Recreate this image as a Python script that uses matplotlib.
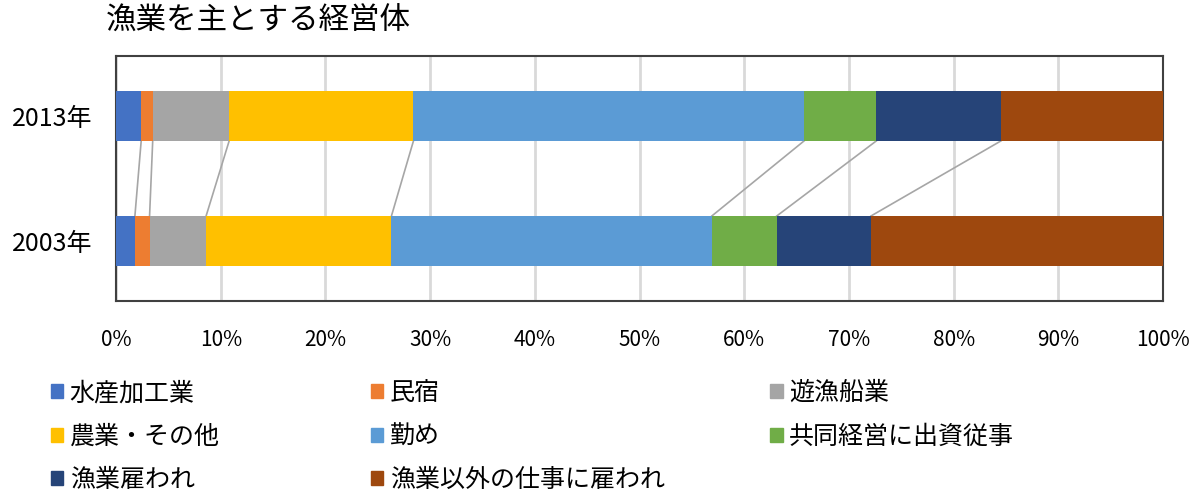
import numpy as np
import matplotlib.pyplot as plt
from matplotlib.patches import Patch

plt.rcParams['font.family'] = ['Noto Sans CJK JP', 'DejaVu Sans']

years = ['2003年', '2013年']
categories = ['水産加工業', '民宿', '遊漁船業', '農業・その他', '勤め',
              '共同経営に出資従事', '漁業雇われ', '漁業以外の仕事に雇われ']
# shares in percent per category
share_2003 = [1.8, 1.4, 5.4, 17.7, 30.6, 6.2, 9.0, 27.9]
share_2013 = [2.4, 1.1, 7.3, 17.6, 37.3, 6.9, 11.9, 15.5]
colors = ['#4472C4', '#ED7D31', '#A5A5A5', '#FFC000', '#5B9BD5',
          '#70AD47', '#264478', '#9E480E']

vals = np.array([share_2003, share_2013])
vals = vals / vals.sum(axis=1, keepdims=True) * 100
cum = np.cumsum(vals, axis=1)
left = cum - vals

fig = plt.figure(figsize=(11.94, 4.95), dpi=100)
ax = fig.add_axes([0.0972, 0.392, 0.877, 0.495])

h = 0.4
ypos = np.arange(len(years))
for i, cat in enumerate(categories):
    ax.barh(ypos, vals[:, i], left=left[:, i], height=h, color=colors[i],
            label=cat, zorder=3)

# connector lines between the bars
for k in range(len(categories) - 1):
    ax.plot([cum[1, k], cum[0, k]], [1 - h / 2, 0 + h / 2],
            color='#a6a6a6', lw=1.2, zorder=2)

ax.set_xlim(0, 100)
ax.set_ylim(-0.48, 1.48)
ax.set_xticks(np.arange(0, 101, 10))
ax.set_xticklabels([f'{t}%' for t in range(0, 101, 10)], fontsize=15)
ax.set_yticks(ypos)
ax.set_yticklabels(years, fontsize=18)
ax.tick_params(axis='both', length=0)
ax.tick_params(axis='x', pad=20)
ax.tick_params(axis='y', pad=17)
ax.grid(axis='x', color='#d9d9d9', lw=2, zorder=0)
for sp in ax.spines.values():
    sp.set_color('#404040')
    sp.set_linewidth(1.5)

fig.text(0.089, 0.958, '漁業を主とする経営体', fontsize=22, va='center', ha='left')

# legend in three columns, row-major like the original
handles = [Patch(color=c) for c in colors]
col_x = [0.0427, 0.3107, 0.645]
for c in range(3):
    idx = list(range(c, len(categories), 3))
    fig.legend([handles[i] for i in idx], [categories[i] for i in idx],
               loc='upper left', bbox_to_anchor=(col_x[c], 0.232),
               frameon=False, fontsize=18, handlelength=0.5,
               handleheight=0.5, handletextpad=0.25, labelspacing=0.7,
               borderaxespad=0, borderpad=0)

fig.savefig('out.png', dpi=100)
